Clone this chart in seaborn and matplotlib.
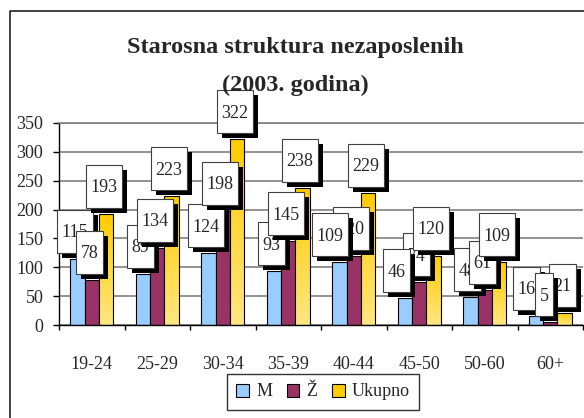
import numpy as np
import pandas as pd
import seaborn as sns
import matplotlib.pyplot as plt
from matplotlib.patches import Rectangle
from matplotlib.lines import Line2D
from matplotlib.transforms import Affine2D, ScaledTranslation
from matplotlib.colors import LinearSegmentedColormap

groups = ['19-24', '25-29', '30-34', '35-39', '40-44', '45-50', '50-60', '60+']
muski = [115, 89, 124, 93, 109, 46, 48, 16]
zene = [78, 134, 198, 145, 120, 74, 61, 5]
ukupno = [193, 223, 322, 238, 229, 120, 109, 21]
series = ['M', 'Ž', 'Ukupno']
colors = ['#99CCFF', '#993366', '#FFCC00']

df = pd.DataFrame({
    'grupa': groups * 3,
    'broj': muski + zene + ukupno,
    'pol': [s for s in series for _ in groups],
})

# a few labels were shifted / stacked differently by Excel
label_nudge = {('M', '40-44'): -6.5, ('M', '45-50'): -6, ('M', '60+'): -6.5,
               ('Ž', '60+'): -3.5}
label_front = {('M', '40-44'), ('M', '45-50'), ('Ž', '60+')}

sns.set_theme(style='white')
plt.rcParams['font.family'] = ['Liberation Serif', 'DejaVu Serif']

fig = plt.figure(figsize=(5.84, 4.18), dpi=100)
ax = fig.add_axes([59 / 584, 93 / 418, 524 / 584, 202 / 418])

sns.barplot(data=df, x='grupa', y='broj', hue='pol', palette=colors,
            width=0.66, edgecolor='black', linewidth=0.8, saturation=1,
            ax=ax)

# yellow bars get a vertical gradient like the original
grad = LinearSegmentedColormap.from_list('g', ['#FFE680', '#FFCC00'])
for bar in ax.containers[2]:
    x0, w, h = bar.get_x(), bar.get_width(), bar.get_height()
    im = ax.imshow(np.linspace(0, 1, 50).reshape(-1, 1)[::-1], cmap=grad,
                   extent=(x0, x0 + w, 0, h), aspect='auto', zorder=bar.get_zorder())
    im.set_clip_path(bar)
    bar.set_facecolor('none')
    bar.set_zorder(bar.get_zorder() + 0.1)

ax.set_xlim(-0.5, 7.5)
ax.set_ylim(0, 350)
ax.set_yticks(range(0, 351, 50))
ax.set_xlabel('')
ax.set_ylabel('')
ax.yaxis.grid(True, color='#808080', lw=1.2)
ax.set_axisbelow(True)
for s in ['left', 'bottom']:
    ax.spines[s].set_color('black')
    ax.spines[s].set_linewidth(1)
ax.spines['top'].set_color('#808080')
ax.spines['top'].set_linewidth(1.2)
ax.spines['right'].set_visible(False)

ax.tick_params(axis='y', which='major', direction='out', length=4.3, width=1,
               color='black', pad=7, labelsize=13, left=True)
ax.tick_params(axis='x', which='major', length=0, pad=22, labelsize=13)
ax.set_xticks(np.arange(-0.5, 8, 1), minor=True)
ax.tick_params(axis='x', which='minor', direction='out', length=3.6, width=1,
               color='black', bottom=True)

# data labels: white box with a black drop shadow, sized in pixels
box_h = 43
z = 5
for s, cont in zip(series, ax.containers):
    for g, bar in zip(groups, cont):
        z += 1
        zz = z + 100 if (s, g) in label_front else z
        val = int(bar.get_height())
        xc = bar.get_x() + bar.get_width() / 2
        anchor = ScaledTranslation(xc, val, ax.transData)
        bw = 9 * len(str(val)) + 9
        dx = -2.5 + label_nudge.get((s, g), 0)
        left = dx - bw / 2
        shadow = Rectangle((left + 5, 6 - 5), bw, box_h, fc='black', ec='none',
                           transform=Affine2D() + anchor, zorder=zz, clip_on=False)
        box = Rectangle((left, 6), bw, box_h, fc='white', ec='#404040', lw=0.8,
                        transform=Affine2D() + anchor, zorder=zz + 0.1, clip_on=False)
        ax.add_artist(shadow)
        ax.add_artist(box)
        ax.annotate(str(val), xy=(xc, val), xytext=(dx, 6 + box_h / 2 - 6),
                    textcoords='offset pixels', ha='center', va='baseline',
                    fontsize=13, zorder=zz + 0.2, annotation_clip=False)

handles, labels = ax.get_legend_handles_labels()
leg = ax.legend(handles, labels, loc='center', ncol=3,
                bbox_to_anchor=(323 / 584, 26 / 418), bbox_transform=fig.transFigure,
                frameon=True, fancybox=False, edgecolor='black', fontsize=13,
                handlelength=0.7, handleheight=0.7, handletextpad=0.4,
                columnspacing=0.8, borderpad=0.5)
leg.get_frame().set_linewidth(1)
for h in leg.legend_handles:
    h.set_edgecolor('black')

fig.text(295 / 584, 1 - 47 / 418, 'Starosna struktura nezaposlenih',
         ha='center', va='center', fontsize=17.5, fontweight='bold')
fig.text(295 / 584, 1 - 85 / 418, '(2003. godina)',
         ha='center', va='center', fontsize=17.5, fontweight='bold')

fig.add_artist(Line2D([10 / 584, 10 / 584, 1], [0, 1 - 11 / 418, 1 - 11 / 418],
                      transform=fig.transFigure, color='#222222', lw=1.2))

fig.savefig('out.png', dpi=100)
